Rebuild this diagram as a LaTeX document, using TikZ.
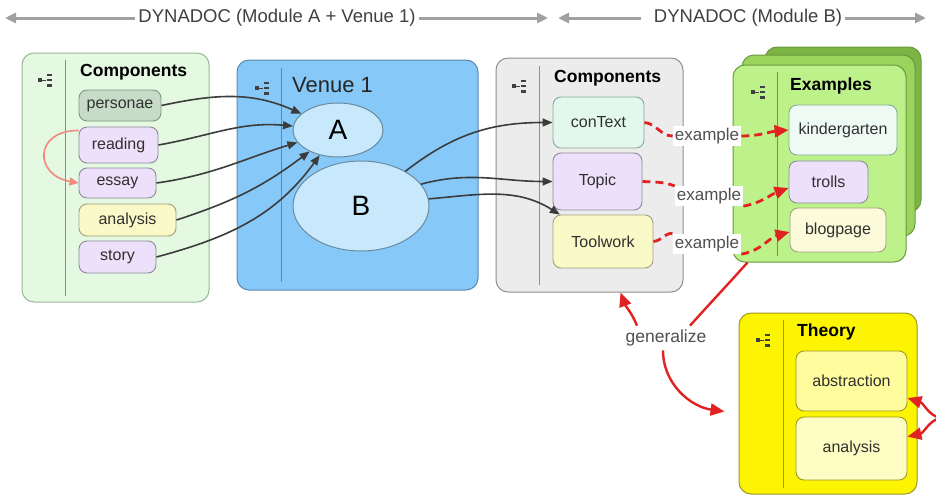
\documentclass[tikz,border=0pt]{standalone}
\usepackage{fontspec}
\setmainfont{Liberation Sans}
\usetikzlibrary{arrows.meta,calc,shapes.geometric}

\definecolor{topgray}{HTML}{A0A0A0}
\definecolor{toptext}{HTML}{404040}
\definecolor{conn}{HTML}{3C3C3C}
\definecolor{icongray}{HTML}{404040}
\definecolor{textdark}{HTML}{303030}
\definecolor{leftfill}{HTML}{E4F8E2}
\definecolor{leftline}{HTML}{98B898}
\definecolor{persfill}{HTML}{C6DCC6}
\definecolor{persline}{HTML}{7A9A7A}
\definecolor{lavfill}{HTML}{ECE0FA}
\definecolor{lavline}{HTML}{8C8A9C}
\definecolor{yelfill}{HTML}{FAFAC8}
\definecolor{yelline}{HTML}{A0A080}
\definecolor{mintfill}{HTML}{E2F8EC}
\definecolor{mintline}{HTML}{88A898}
\definecolor{venuefill}{HTML}{86C8F8}
\definecolor{venueline}{HTML}{5A88B0}
\definecolor{ellfill}{HTML}{C8E8FC}
\definecolor{ellline}{HTML}{6A8AA0}
\definecolor{grayfill}{HTML}{ECECEC}
\definecolor{grayline}{HTML}{909090}
\definecolor{exback}{HTML}{7CB545}
\definecolor{exmid}{HTML}{9AD45C}
\definecolor{exfront}{HTML}{BDF28A}
\definecolor{exline}{HTML}{6A9A40}
\definecolor{theofill}{HTML}{FCF400}
\definecolor{theoline}{HTML}{A09820}
\definecolor{absfill}{HTML}{FEFC9C}
\definecolor{anafill}{HTML}{FEFEC4}
\definecolor{redc}{HTML}{E02222}
\definecolor{pinkc}{HTML}{F08A80}
\definecolor{labeltext}{HTML}{505050}

\newcommand{\fsz}[1]{\fontsize{#1}{#1}\selectfont}

\tikzset{
  sz/.style 2 args={minimum width=#1pt, minimum height=#2pt},
  box/.style={draw, rounded corners=12pt, line width=1pt, inner sep=0pt},
  item/.style={draw, rounded corners=8pt, line width=0.9pt, inner sep=0pt,
    font=\fsz{16}, text=textdark},
  title/.style={anchor=west, inner sep=0pt, font=\fsz{17.5}\bfseries},
  divider/.style={line width=0.8pt},
  toparrow/.style={draw=topgray, line width=3pt, -{Triangle[length=11pt,width=10pt]}},
  toptitle/.style={inner sep=3pt, font=\fsz{18.5}, text=toptext},
  darkarrow/.style={draw=conn, line width=1.6pt, -{Triangle[length=10pt,width=8pt]}},
  redarrow/.style={draw=redc, line width=2.4pt, -{Triangle[length=14pt,width=12pt]}},
  redline/.style={draw=redc, line width=2.4pt},
  reddash/.style={draw=redc, line width=2.8pt, dash pattern=on 8pt off 5pt},
  exlabel/.style={fill=white, inner sep=2pt, font=\fsz{17}, text=labeltext},
  menuicon/.pic={
    \fill[icongray] (-7,-2) rectangle (-3.5,2);
    \draw[icongray, line width=0.6pt] (-3.5,0) -- (1,0);
    \fill[icongray] (1.5,-6.5) rectangle (6.5,-4.3);
    \fill[icongray] (1.5,-1.1) rectangle (6.5,1.1);
    \fill[icongray] (1.5,4.3) rectangle (6.5,6.5);
  }
}

\begin{document}
\begin{tikzpicture}[x=1pt,y=-1pt]
\useasboundingbox (0,0) rectangle (936,496);
\fill[white] (0,0) rectangle (936,496);

% ---------- header arrows ----------
\node[toptitle] (tA) at (277,18) {DYNADOC (Module A + Venue 1)};
\node[toptitle] (tB) at (748,18) {DYNADOC (Module B)};
\coordinate (hA1) at (5,18);
\coordinate (hA2) at (548,18);
\coordinate (hB1) at (558,18);
\coordinate (hB2) at (926,18);
\draw[toparrow] (tA.west) -- (hA1);
\draw[toparrow] (tA.east) -- (hA2);
\draw[toparrow] ($(tB.west)+(-10,0)$) -- (hB1);
\draw[toparrow] (tB.east) -- (hB2);

% ---------- left components ----------
\node[box, draw=leftline, fill=leftfill, sz={187}{249}] (leftC) at (115.5,177.5) {};
\draw[divider, draw=leftline!80!black] (65,60) -- (65,296);
\pic at (45,80) {menuicon};
\node[title] (leftT) at (80,72) {Components};
\node[item, draw=persline, fill=persfill, sz={82}{31}] (personae) at (120,105.5) {personae};
\node[item, draw=lavline, fill=lavfill, sz={79}{36}] (reading) at (118.5,145) {reading};
\node[item, draw=lavline, fill=lavfill, sz={77}{30}] (essay) at (117.5,183) {essay};
\node[item, draw=yelline, fill=yelfill, sz={97}{32}] (analysisA) at (127.5,220) {analysis};
\node[item, draw=lavline, fill=lavfill, sz={77}{32}] (story) at (117.5,257) {story};

% ---------- venue 1 ----------
\node[box, draw=venueline, fill=venuefill, sz={241}{230}] (venue) at (357.5,175) {};
\draw[divider, draw=venueline] (281,68) -- (281,282);
\pic at (262,88) {menuicon};
\node[anchor=west, inner sep=0pt, font=\fsz{22}, text=black!85] (venueT) at (292,85) {Venue 1};
\node[ellipse, draw=ellline, fill=ellfill, line width=1pt, sz={90}{54}, inner sep=0pt,
      font=\fsz{28}] (A) at (338,130) {A};
\node[ellipse, draw=ellline, fill=ellfill, line width=1pt, sz={136}{90}, inner sep=0pt,
      font=\fsz{28}] (B) at (361,206) {B};

% ---------- module B components ----------
\node[box, draw=grayline, fill=grayfill, sz={187}{234}] (grayC) at (589.5,175) {};
\draw[divider, draw=grayline] (539,66) -- (539,285);
\pic at (519,86) {menuicon};
\node[title] (grayT) at (554,78) {Components};
\node[item, draw=mintline, fill=mintfill, sz={91}{51}] (conText) at (598.5,122.5) {conText};
\node[item, draw=lavline, fill=lavfill, sz={89}{57}] (Topic) at (597.5,181.5) {Topic};
\node[item, draw=yelline, fill=yelfill, sz={100}{53}] (Toolwork) at (603,241.5) {Toolwork};

% ---------- examples (stacked) ----------
\node[box, draw=exline, fill=exback, sz={156}{165}] (exBack) at (843,129.5) {};
\node[box, draw=exline, fill=exmid, sz={173}{181}] (exMid) at (828.5,145.5) {};
\node[box, draw=exline, fill=exfront, sz={173}{197}] (exFront) at (819.5,163.5) {};
\draw[divider, draw=exline] (777,72) -- (777,256);
\pic at (758,92) {menuicon};
\node[title] (exT) at (790,86) {Examples};
\node[item, draw=mintline, fill=mintfill!60!white, sz={108}{50}] (kg) at (843,130) {kindergarten};
\node[item, draw=lavline, fill=lavfill, sz={79}{42}] (trolls) at (828.5,182) {trolls};
\node[item, draw=yelline, fill=yelfill!70!white, sz={96}{44}] (blog) at (838,230) {blogpage};

% ---------- theory ----------
\node[box, draw=theoline, fill=theofill, sz={178}{181}] (theory) at (828,403.5) {};
\draw[divider, draw=theoline] (783,320) -- (783,488);
\pic at (763,340) {menuicon};
\node[title] (theoT) at (797,332) {Theory};
\node[item, draw=theoline, fill=absfill, sz={111}{60}] (abstraction) at (851.5,381) {abstraction};
\node[item, draw=theoline, fill=anafill, sz={111}{63}] (analysisB) at (851.5,448.5) {analysis};

% ---------- connectors: components to A ----------
\draw[darkarrow] (personae.east) to[out=12,in=156] (A);
\draw[darkarrow] (reading.east) to[out=10,in=175] (A);
\draw[darkarrow] (essay.east) to[out=8,in=197] (A);
\draw[darkarrow] (analysisA.east) to[out=18,in=217] (A);
\draw[darkarrow] (story.east) to[out=15,in=234] (A);
\draw[draw=pinkc, line width=1.6pt, -{Triangle[length=9pt,width=8pt]}]
  (reading.160) to[out=180,in=170,looseness=2.2] (essay.west);

% ---------- connectors: B to components ----------
\draw[darkarrow] (B.38) to[out=38,in=180] (conText.west);
\draw[darkarrow] (B.20) to[out=15,in=180] (Topic.west);
\draw[darkarrow] (B.6) to[out=5,in=148] (Toolwork);

% ---------- example links ----------
\node[exlabel] (ex1) at (707,136) {example};
\node[exlabel] (ex2) at (709,196) {example};
\node[exlabel] (ex3) at (707,244) {example};
\draw[reddash] (conText.east) to[out=-5,in=180] (ex1.west);
\draw[reddash, -{Triangle[length=14pt,width=12pt]}] (ex1.east) to[out=0,in=185] (kg.west);
\draw[reddash] (Topic.east) to[out=-3,in=160] (ex2.north west);
\draw[reddash, -{Triangle[length=14pt,width=12pt]}] (ex2.south east) to[out=10,in=200] ($(trolls.west)+(0,6)$);
\draw[reddash] (Toolwork.east) to[out=5,in=160] ($(ex3.north west)+(2,0)$);
\draw[reddash, -{Triangle[length=14pt,width=12pt]}] (ex3.south east) to[out=10,in=195] ($(blog.west)+(0,2)$);

% ---------- generalize ----------
\node[exlabel, font=\fsz{17.5}] (gen) at (666,338) {generalize};
\coordinate (theoIn) at ($(theory.west)+(-14,8)$);
\coordinate (loopR) at (948,418);
\draw[redarrow] ($(gen.north)+(-29,-2)$) to[out=112,in=-70] ($(grayC.south)+(31,0)$);
\draw[redline] ($(gen.north)+(24,-2)$) to[out=48,in=-132] ($(exFront.south west)+(15,0)$);
\draw[redarrow] ($(gen.south)+(-3,2)$) to[out=-90,in=172] (theoIn);
\draw[redarrow] (loopR) to[out=190,in=-17] (abstraction);
\draw[redarrow] (loopR) to[out=170,in=12] (analysisB);
\end{tikzpicture}
\end{document}
